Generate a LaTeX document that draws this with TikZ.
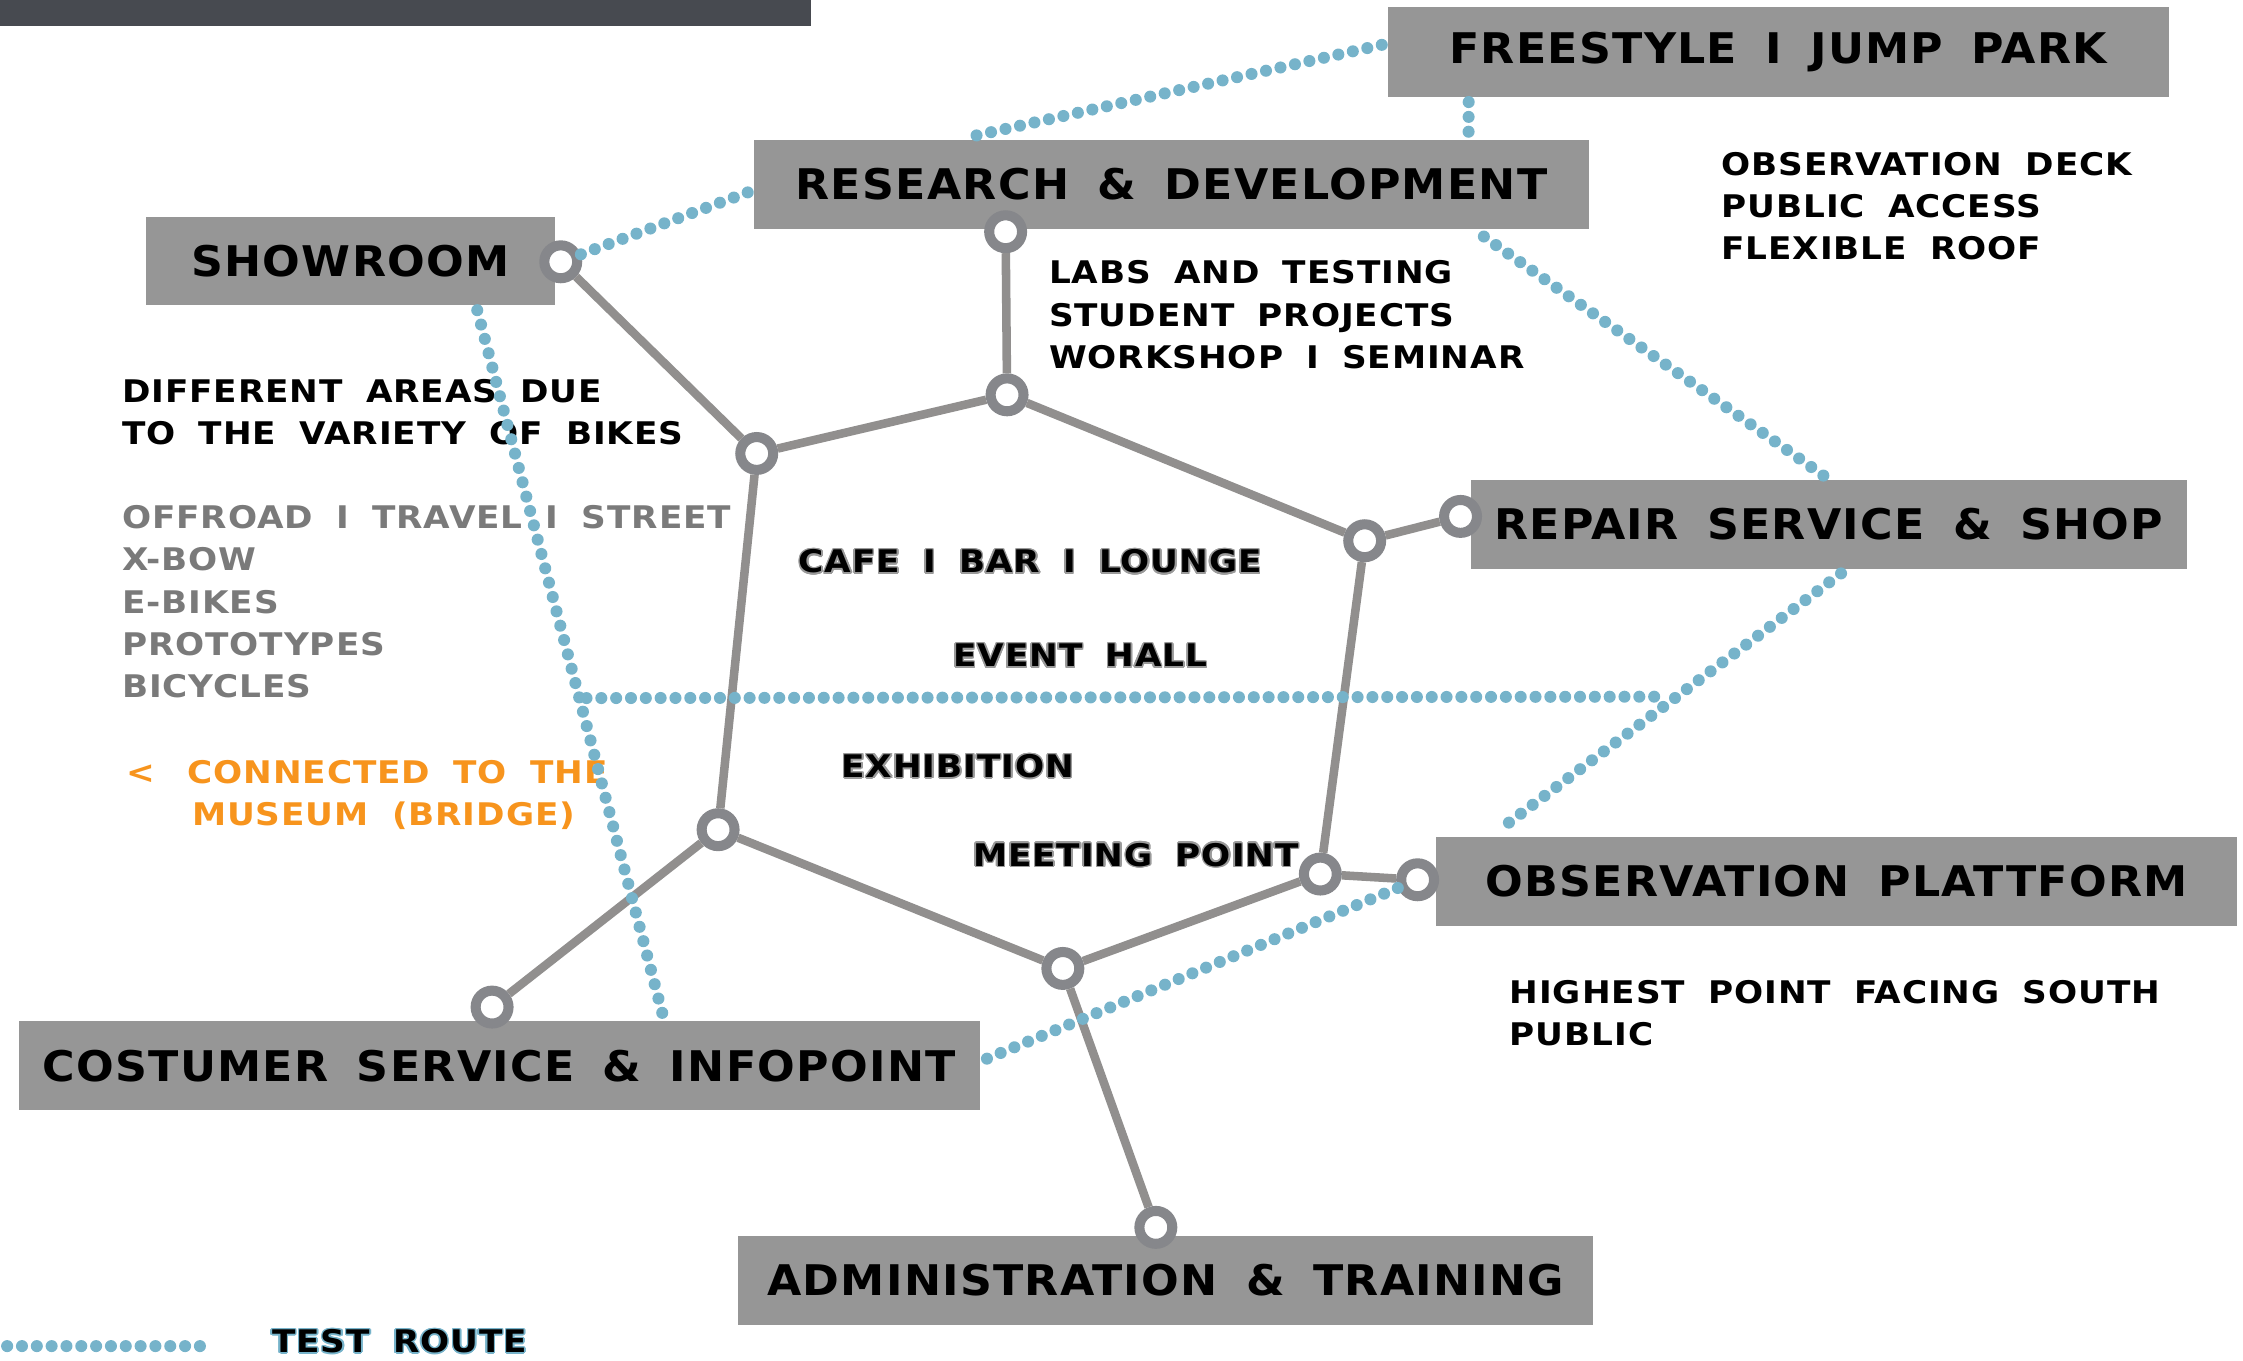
\documentclass[tikz,border=0pt]{standalone}
\usepackage{fontspec}
\usepackage{contour}
\usetikzlibrary{positioning}
\newfontfamily\zonefont[FakeStretch=1.05,LetterSpace=3,WordSpace=1.7]{DejaVu Sans}
\newfontfamily\notefont[FakeStretch=1.1,LetterSpace=3,WordSpace=1.8]{DejaVu Sans}
\definecolor{zonegray}{HTML}{969696}
\definecolor{hubgray}{HTML}{86878B}
\definecolor{linkgray}{HTML}{918F8E}
\definecolor{routeblue}{HTML}{76B3CA}
\definecolor{notegray}{HTML}{7A7A7A}
\definecolor{museumorange}{HTML}{F7941D}
\definecolor{bargray}{HTML}{474A50}
\definecolor{halogray}{HTML}{9A9A9A}
\contourlength{0.6pt}
\tikzset{zone/.style={fill=zonegray,inner sep=0pt,minimum height=1.24cm,font=\zonefont\bfseries\fontsize{16.8}{18}\selectfont},
  hub/.style={circle,draw=hubgray,line width=4pt,fill=white,minimum size=0.46cm,inner sep=0pt},
  link/.style={draw=linkgray,line width=3.4pt},
  route/.style={draw=routeblue,line width=4.8pt,line cap=round,dash pattern=on 0pt off 5.9pt},
  note/.style={anchor=north west,align=left,inner sep=0pt,font=\notefont\bfseries\fontsize{12.4}{16.8}\selectfont}}

\begin{document}
\begin{tikzpicture}[x=0.02cm,y=-0.02cm]
  \useasboundingbox (0,0) rectangle (1568,951);
  \fill[bargray] (0,0) rectangle (567,18);

  % areas
  \node[zone,minimum width=10.92cm,minimum height=1.26cm] (fjp) at (1243,36.5) {FREESTYLE I JUMP PARK};
  \node[zone,minimum width=11.68cm] (rnd) at (819,129) {RESEARCH \& DEVELOPMENT};
  \node[zone,minimum width=5.72cm] (show) at (245,182.5) {SHOWROOM};
  \node[zone,minimum width=10.02cm] (rep) at (1278.5,366.5) {REPAIR SERVICE \& SHOP};
  \node[zone,minimum width=11.2cm] (obs) at (1284,616) {OBSERVATION PLATTFORM};
  \node[zone,minimum width=13.44cm] (cust) at (349,745) {COSTUMER SERVICE \& INFOPOINT};
  \node[zone,minimum width=11.96cm] (adm) at (815,895) {ADMINISTRATION \& TRAINING};

  % junctions
  \node[hub] (a) at (392,183) {};
  \node[hub] (b) at (703,162) {};
  \node[hub] (c) at (704,276) {};
  \node[hub] (d) at (529,317) {};
  \node[hub] (e) at (954,378) {};
  \node[hub] (f) at (1021,361) {};
  \node[hub] (g) at (502,580) {};
  \node[hub] (h) at (923,611) {};
  \node[hub] (i) at (991,615) {};
  \node[hub] (j) at (743,677) {};
  \node[hub] (k) at (344,704) {};
  \node[hub] (l) at (808,858) {};

  \draw[link] (a) -- (d);
  \draw[link] (b) -- (c);
  \draw[link] (c) -- (d);
  \draw[link] (c) -- (e);
  \draw[link] (e) -- (f);
  \draw[link] (d) -- (g);
  \draw[link] (e) -- (h);
  \draw[link] (h) -- (i);
  \draw[link] (g) -- (j);
  \draw[link] (j) -- (h);
  \draw[link] (g) -- (k);
  \draw[link] (j) -- (l);

  % texts
  \node[note] (labs) at (733,182) {LABS AND TESTING\\STUDENT PROJECTS\\WORKSHOP I SEMINAR};
  \node[note] (deck) at (1203,106) {OBSERVATION DECK\\PUBLIC ACCESS\\FLEXIBLE ROOF};
  \node[note] (areas) at (85,265) {DIFFERENT AREAS DUE\\TO THE VARIETY OF BIKES};
  \node[note,text=notegray] (bikes) at (85,353) {OFFROAD I TRAVEL I STREET\\X-BOW\\E-BIKES\\PROTOTYPES\\BICYCLES};
  \node[note,text=museumorange] (museum) at (88,531) {<\hspace{0.45cm}CONNECTED TO THE\\\hspace*{0.92cm}MUSEUM (BRIDGE)};
  \node[note] (cafe) at (558,384) {\contour{halogray}{CAFE I BAR I LOUNGE}};
  \node[note] (event) at (666,450) {\contour{halogray}{EVENT HALL}};
  \node[note] (exhib) at (588,527) {\contour{halogray}{EXHIBITION}};
  \node[note] (meet) at (680,589) {\contour{halogray}{MEETING POINT}};
  \node[note] (south) at (1055,685) {HIGHEST POINT FACING SOUTH\\PUBLIC};

  % test route
  \draw[route] ([xshift=3.12cm,yshift=0.06cm]rnd.north west) -- ([yshift=0.12cm]fjp.west);
  \draw[route] ([xshift=1.14cm,yshift=-0.06cm]fjp.south west) -- ([xshift=10cm,yshift=0.06cm]rnd.north west);
  \draw[route] (a) -- ([yshift=-0.08cm]rnd.west);
  \draw[route] ([xshift=-1.48cm,yshift=-0.1cm]rnd.south east) -- (rep.north);
  \draw[route] ([xshift=4.64cm,yshift=-0.06cm]show.south west) -- ([xshift=9.02cm,yshift=0.06cm]cust.north west);
  \coordinate (r1) at (410,488);
  \coordinate (r2) at (1163,487);
  \draw[route] (r1) -- (r2);
  \draw[route] ([xshift=0.17cm,yshift=-0.06cm]rep.south) -- ([xshift=0.9cm,yshift=0.1cm]obs.north west);
  \draw[route] (i) -- ([yshift=0.06cm]cust.east);

  % legend
  \coordinate (lg1) at (5,941);
  \coordinate (lg2) at (143,941);
  \draw[route] (lg1) -- (lg2);
  \node[note] (lgtext) at (190,929) {\contour{routeblue}{TEST ROUTE}};
\end{tikzpicture}
\end{document}
